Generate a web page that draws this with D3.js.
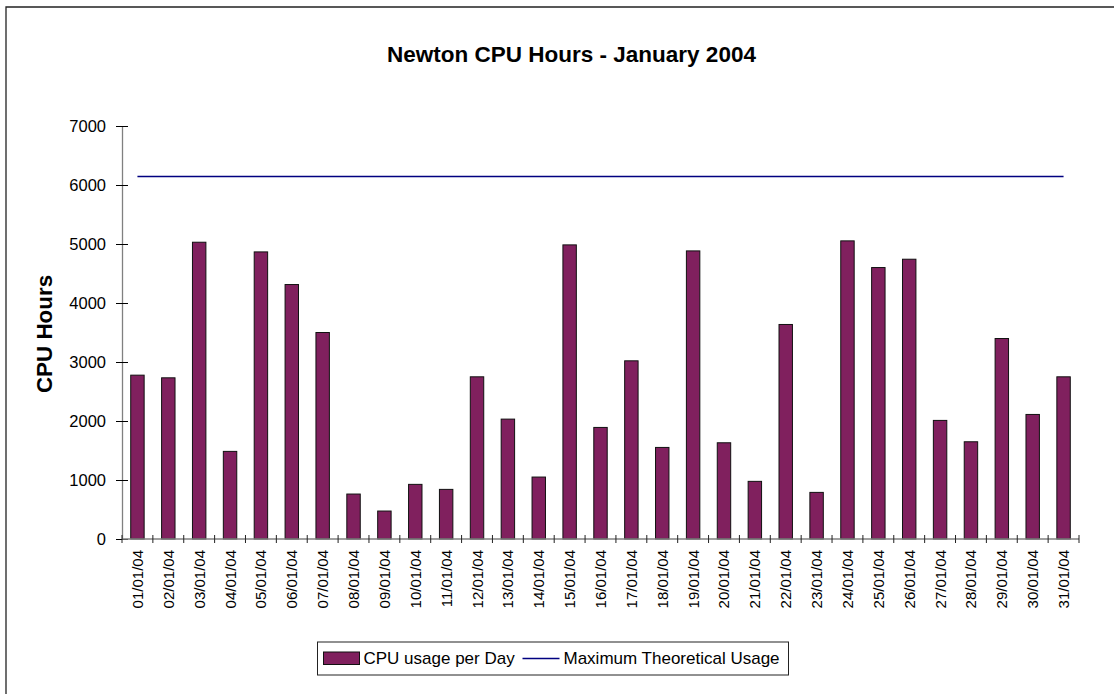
<!DOCTYPE html>
<html>
<head>
<meta charset="utf-8">
<script src="https://cdn.jsdelivr.net/npm/d3@7"></script>
<style>
  body { margin: 0; background: #fff; }
  svg { display: block; font-family: 'Liberation Sans', Arial, sans-serif; }
</style>
</head>
<body>
<div id="chart"></div>
<script>
// Daily CPU hours for January 2004
let days = ['01/01/04','02/01/04','03/01/04','04/01/04','05/01/04','06/01/04','07/01/04',
  '08/01/04','09/01/04','10/01/04','11/01/04','12/01/04','13/01/04','14/01/04','15/01/04',
  '16/01/04','17/01/04','18/01/04','19/01/04','20/01/04','21/01/04','22/01/04','23/01/04',
  '24/01/04','25/01/04','26/01/04','27/01/04','28/01/04','29/01/04','30/01/04','31/01/04'];

let cpuHours = [2777, 2732, 5030, 1485, 4866, 4313, 3500, 762, 474, 926, 841, 2749, 2032, 1050, 4985,
  1891, 3020, 1552, 4883, 1631, 977, 3636, 790, 5053, 4601, 4742, 2010, 1648, 3398, 2111, 2749];

// Maximum theoretical usage is flat over the month
let maxUsage = days.map(() => 6144);

let yTicks = [0, 1000, 2000, 3000, 4000, 5000, 6000, 7000];

let svgWidth = 1114;
let svgHeight = 694;

let margin = { top: 126, right: 35, bottom: 155, left: 122 };
let width = svgWidth - margin.left - margin.right;
let height = svgHeight - margin.top - margin.bottom;

let svg = d3.select('#chart')
  .append('svg')
  .attr('width', svgWidth)
  .attr('height', svgHeight);

// Frame (only left and top edges are visible in the picture)
svg.append('path')
  .attr('d', 'M6,694V7H1114')
  .attr('fill', 'none')
  .attr('stroke', '#222')
  .attr('stroke-width', 1.3);

let chartGroup = svg.append('g')
  .attr('transform', `translate(${margin.left}, ${margin.top})`);

// Scales
let xScale = d3.scaleBand()
  .domain(days)
  .range([0, width])
  .padding(0);

let yScale = d3.scaleLinear()
  .domain([0, 7000])
  .range([height, 0]);

let barWidth = xScale.bandwidth() * 0.435;

// Bars
chartGroup.selectAll('rect.bar')
  .data(cpuHours)
  .enter()
  .append('rect')
  .attr('class', 'bar')
  .attr('x', (d, i) => xScale(days[i]) + (xScale.bandwidth() - barWidth) / 2)
  .attr('y', d => yScale(d))
  .attr('width', barWidth)
  .attr('height', d => height - yScale(d))
  .attr('fill', '#80205e')
  .attr('stroke', '#111')
  .attr('stroke-width', 1);

// Max theoretical usage line
let line = d3.line()
  .x((d, i) => xScale(days[i]) + xScale.bandwidth() / 2)
  .y(d => yScale(d));

chartGroup.append('path')
  .datum(maxUsage)
  .attr('d', line)
  .attr('fill', 'none')
  .attr('stroke', '#000080')
  .attr('stroke-width', 1.5);

// Y axis
let yAxis = d3.axisLeft(yScale)
  .tickValues(yTicks)
  .tickFormat(d3.format('d'))
  .tickSizeInner(6)
  .tickSizeOuter(0)
  .tickPadding(10);

let yAxisG = chartGroup.append('g').call(yAxis);
yAxisG.select('.domain').attr('stroke', '#808080').attr('stroke-width', 1.3);
yAxisG.selectAll('.tick line').attr('x2', 6).attr('x1', -6).attr('stroke', '#000');
yAxisG.selectAll('.tick text')
  .attr('font-size', '16.5px')
  .attr('font-family', "'Liberation Sans', Arial, sans-serif")
  .attr('fill', '#000');

// X axis: ticks between categories
let xAxisG = chartGroup.append('g')
  .attr('transform', `translate(0, ${height})`);

xAxisG.append('line')
  .attr('x1', 0)
  .attr('x2', width)
  .attr('stroke', '#808080')
  .attr('stroke-width', 1.3);

let boundaries = days.map(d => xScale(d)).concat([width]);
xAxisG.selectAll('line.tick')
  .data(boundaries)
  .enter()
  .append('line')
  .attr('class', 'tick')
  .attr('x1', d => d)
  .attr('x2', d => d)
  .attr('y1', -4)
  .attr('y2', 4)
  .attr('stroke', '#222');

xAxisG.selectAll('text')
  .data(days)
  .enter()
  .append('text')
  .attr('transform', d => `translate(${xScale(d) + xScale.bandwidth() / 2 + 5.5}, 11) rotate(-90)`)
  .attr('text-anchor', 'end')
  .attr('font-size', '15px')
  .attr('fill', '#000')
  .text(d => d);

// Title
svg.append('text')
  .attr('x', 571.5)
  .attr('y', 61.5)
  .attr('text-anchor', 'middle')
  .attr('font-size', '22.5px')
  .attr('font-weight', 'bold')
  .text('Newton CPU Hours - January 2004');

// Y axis label
svg.append('text')
  .attr('transform', 'translate(52, 334) rotate(-90)')
  .attr('text-anchor', 'middle')
  .attr('font-size', '22.4px')
  .attr('font-weight', 'bold')
  .text('CPU Hours');

// Legend
let legend = svg.append('g');

legend.append('rect')
  .attr('x', 317.5)
  .attr('y', 642)
  .attr('width', 471)
  .attr('height', 33)
  .attr('fill', '#fff')
  .attr('stroke', '#222')
  .attr('stroke-width', 1);

legend.append('rect')
  .attr('x', 323.5)
  .attr('y', 652)
  .attr('width', 36)
  .attr('height', 12.5)
  .attr('fill', '#80205e')
  .attr('stroke', '#111')
  .attr('stroke-width', 1);

legend.append('text')
  .attr('x', 363.5)
  .attr('y', 664)
  .attr('font-size', '17px')
  .text('CPU usage per Day');

legend.append('line')
  .attr('x1', 522.5)
  .attr('x2', 559.5)
  .attr('y1', 658.5)
  .attr('y2', 658.5)
  .attr('stroke', '#000080')
  .attr('stroke-width', 1.5);

legend.append('text')
  .attr('x', 563.5)
  .attr('y', 664)
  .attr('font-size', '17px')
  .text('Maximum Theoretical Usage');
</script>
</body>
</html>
